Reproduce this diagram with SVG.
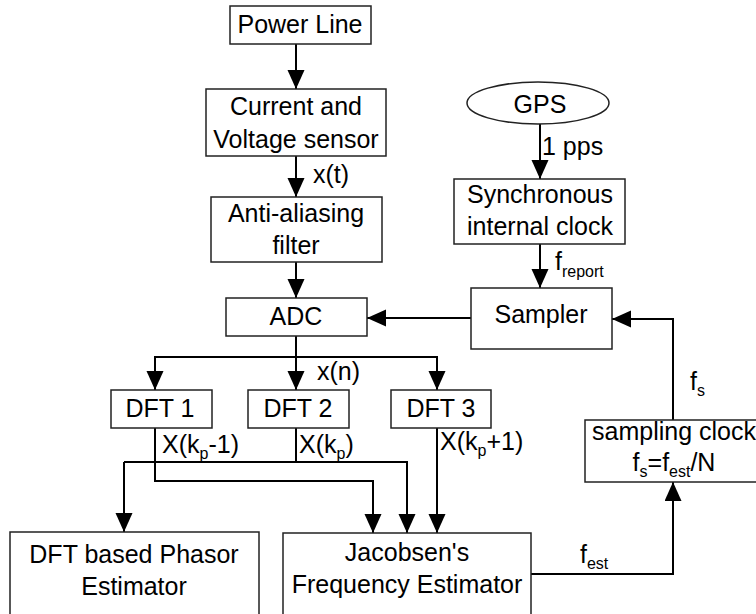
<svg xmlns="http://www.w3.org/2000/svg" width="756" height="614" viewBox="0 0 756 614">
<defs>
<marker id="ah" markerUnits="userSpaceOnUse" markerWidth="20" markerHeight="18" refX="19" refY="8.5" orient="auto">
<path d="M0,0 L19,8.5 L0,17 Z" fill="#000"/>
</marker>
<style>
.box{fill:#fff;stroke:#222;stroke-width:1.5}
.t{font-family:"Liberation Sans",Arial,sans-serif;font-size:25px;fill:#000}
.c{text-anchor:middle}
.sub{font-size:16px}
.ln{fill:none;stroke:#000;stroke-width:2}
.ar{fill:none;stroke:#000;stroke-width:2;marker-end:url(#ah)}
</style>
</defs>
<rect width="756" height="614" fill="#fff"/>

<g id="connectors">
<line class="ar" x1="296" y1="44" x2="296" y2="89"/>
<line class="ar" x1="296" y1="156" x2="296" y2="197"/>
<line class="ar" x1="296" y1="262" x2="296" y2="298"/>
<line class="ar" x1="540" y1="124" x2="540" y2="179"/>
<line class="ar" x1="540" y1="244" x2="540" y2="288"/>
<line class="ar" x1="471" y1="318" x2="367" y2="318"/>
<line class="ln" x1="296" y1="336" x2="296" y2="357"/>
<polyline class="ln" points="155,370 155,357 437,357 437,370"/>
<line class="ar" x1="155" y1="357" x2="155" y2="390"/>
<line class="ar" x1="296" y1="357" x2="296" y2="390"/>
<line class="ar" x1="437" y1="357" x2="437" y2="390"/>
<polyline class="ln" points="296,428 296,462"/>
<polyline class="ar" points="124,462 124,532"/>
<polyline class="ln" points="124,462 407,462 407,500"/>
<line class="ar" x1="407" y1="470" x2="407" y2="533"/>
<polyline class="ar" points="155,428 155,481 373,481 373,533"/>
<line class="ar" x1="437" y1="428" x2="437" y2="533"/>
<polyline class="ar" points="531,574 673,574 673,482"/>
<polyline class="ar" points="673,420 673,319 612,319"/>
</g>

<g id="powerline">
<rect class="box" x="230" y="6" width="141" height="38"/>
<text class="t c" x="300" y="33">Power Line</text>
</g>
<g id="sensor">
<rect class="box" x="206" y="89" width="180" height="67"/>
<text class="t c" x="296" y="115">Current and</text>
<text class="t c" x="296" y="148">Voltage sensor</text>
</g>
<g id="filter">
<rect class="box" x="211" y="197" width="171" height="65"/>
<text class="t c" x="296" y="222">Anti-aliasing</text>
<text class="t c" x="296" y="254">filter</text>
</g>
<g id="adc">
<rect class="box" x="226" y="298" width="141" height="38"/>
<text class="t c" x="296" y="325">ADC</text>
</g>
<g id="gps">
<ellipse class="box" cx="538" cy="103" rx="71" ry="21"/>
<text class="t c" x="540" y="113">GPS</text>
</g>
<g id="syncclock">
<rect class="box" x="454" y="179" width="171" height="65"/>
<text class="t c" x="540" y="203">Synchronous</text>
<text class="t c" x="540" y="235">internal clock</text>
</g>
<g id="sampler">
<rect class="box" x="471" y="288" width="141" height="61"/>
<text class="t c" x="541" y="323">Sampler</text>
</g>
<g id="dft1">
<rect class="box" x="111" y="390" width="101" height="38"/>
<text class="t c" x="160" y="417">DFT 1</text>
</g>
<g id="dft2">
<rect class="box" x="248" y="390" width="101" height="38"/>
<text class="t c" x="298" y="417">DFT 2</text>
</g>
<g id="dft3">
<rect class="box" x="391" y="390" width="100" height="38"/>
<text class="t c" x="441" y="417">DFT 3</text>
</g>
<g id="samplingclock">
<rect class="box" x="585" y="420" width="180" height="62"/>
<text class="t c" x="674" y="440">sampling clock</text>
<text class="t c" x="674" y="471">f<tspan class="sub" dy="6">s</tspan><tspan dy="-6">=f</tspan><tspan class="sub" dy="6">est</tspan><tspan dy="-6">/N</tspan></text>
</g>
<g id="phasor">
<rect class="box" x="10" y="532" width="249" height="90"/>
<text class="t c" x="134" y="563">DFT based Phasor</text>
<text class="t c" x="134" y="595">Estimator</text>
</g>
<g id="jacobsen">
<rect class="box" x="283" y="533" width="248" height="90"/>
<text class="t c" x="407" y="561">Jacobsen's</text>
<text class="t c" x="407" y="593">Frequency Estimator</text>
</g>

<g id="labels">
<text class="t" x="313" y="183">x(t)</text>
<text class="t" x="542" y="155">1 pps</text>
<text class="t" x="555" y="270">f<tspan class="sub" dy="7">report</tspan></text>
<text class="t" x="317" y="380">x(n)</text>
<text class="t" x="162" y="453">X(k<tspan class="sub" dy="6">p</tspan><tspan dy="-6">-1)</tspan></text>
<text class="t" x="299" y="453">X(k<tspan class="sub" dy="6">p</tspan><tspan dy="-6">)</tspan></text>
<text class="t" x="440" y="450">X(k<tspan class="sub" dy="6">p</tspan><tspan dy="-6">+1)</tspan></text>
<text class="t" x="690" y="390">f<tspan class="sub" dy="6">s</tspan></text>
<text class="t" x="580" y="563">f<tspan class="sub" dy="6">est</tspan></text>
</g>
</svg>
